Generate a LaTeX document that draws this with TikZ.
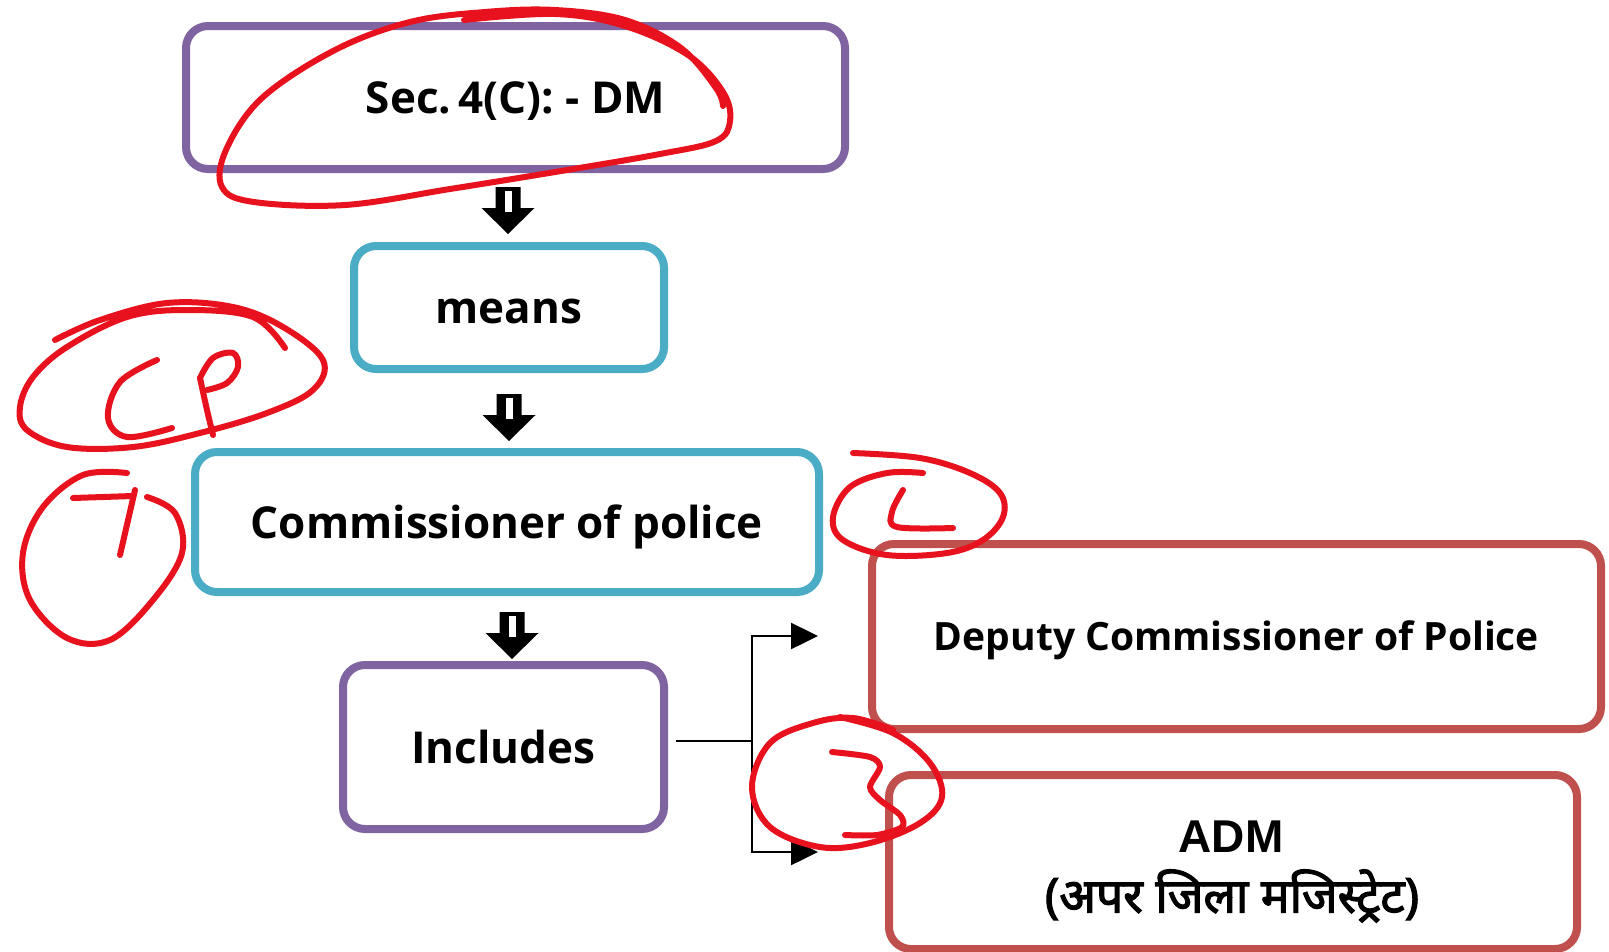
\documentclass[tikz,border=0pt]{standalone}
\usepackage{fontspec}
\setmainfont{Open Sans}
\newfontfamily\admfont{Liberation Sans}
\newfontfamily\devfont[Script=Devanagari, FakeBold=2.5]{Noto Sans}
\usetikzlibrary{arrows.meta,calc}
\definecolor{cpurple}{RGB}{128,100,162}
\definecolor{cblue}{RGB}{75,172,198}
\definecolor{cred}{RGB}{192,80,77}
\definecolor{ink}{RGB}{232,18,30}
\begin{document}
\begin{tikzpicture}[x=1pt,y=-1pt,
  box/.style={draw, line width=8pt, rounded corners=22pt, fill=white, inner sep=0pt,
    font=\bfseries\fontsize{44}{50}\selectfont, text height=40pt, text depth=8pt},
  purplebox/.style={box, draw=cpurple},
  bluebox/.style={box, draw=cblue},
  redbox/.style={box, draw=cred},
  hand/.style={draw=ink, line width=6pt, line cap=round, line join=round},
  conn/.style={line width=2.5pt, draw=black},
  tip/.style={-{Triangle[length=27pt,width=26pt]}},
  pics/downarrow/.style={code={
    \fill[black] (-12.5,0) -- (12.5,0) -- (12.5,21) -- (26.5,21) -- (0,47) -- (-26.5,21) -- (-12.5,21) -- cycle;
    \fill[white] (-3.5,4) rectangle (3.5,25);
  }}]
\useasboundingbox (0,0) rectangle (1609,951);
\fill[white] (0,0) rectangle (1609,951);

% boxes
\node[purplebox, minimum width=659pt, minimum height=143pt] (sec) at (515.5,97.5) {Sec.\,4(C): - DM};
\node[bluebox, minimum width=310pt, minimum height=123pt] (means) at (509,307.5) {means};
\node[bluebox, minimum width=624pt, minimum height=140pt] (cop) at (507,522) {Commissioner of police};
\node[purplebox, minimum width=321pt, minimum height=164pt] (inc) at (503.5,747) {Includes};
\node[redbox, minimum width=729pt, minimum height=185pt, font=\bfseries\fontsize{39}{46}\selectfont, text height=36pt, text depth=8pt] (dcp) at (1236.5,636.5) {Deputy Commissioner of Police};
\node[redbox, minimum width=688pt, minimum height=174pt] (adm) at (1233,862) {};
\node[font=\admfont\bfseries\fontsize{46}{50}\selectfont, inner sep=0pt] (admt) at (1231,837) {ADM};
\node[font=\devfont\fontsize{48}{54}\selectfont, inner sep=0pt] (admh) at (1232,896) {(अपर जिला मजिस्ट्रेट)};

% block arrows
\pic at (508,187) {downarrow};
\pic at (509,394) {downarrow};
\pic at (512,612) {downarrow};

% branch connector
\coordinate (j) at (752,741);
\coordinate (s) at ($(inc.east |- j)+(8,0)$);
\coordinate (t1) at (818,636);
\coordinate (t2) at (818,852);
\draw[conn] (s) -- (j);
\draw[conn, tip] (j) |- (t1);
\draw[conn, tip] (j) |- (t2);

% hand annotations
\draw[hand] plot[smooth, tension=0.6] coordinates {(464,20) (555,14) (625,26) (688,55) (723,92) (730,121) (716,141) (660,154) (555,172) (450,189) (345,205) (254,202) (222,187) (226,150) (262,98) (335,50) (410,22) (485,12) (555,10) (625,20) (681,48) (716,88) (723,106)};

\draw[hand] plot[smooth, tension=0.6] coordinates {(55,340) (100,320) (167,303) (233,307) (283,327) (323,360) (313,390) (267,413) (200,433) (133,447) (67,447) (27,430) (20,407) (33,377) (67,347) (127,317) (187,310) (253,317) (285,348)};
\draw[hand] plot[smooth, tension=0.6] coordinates {(157,360) (120,382) (108,418) (127,437) (172,428)};
\draw[hand] plot[smooth, tension=0.5] coordinates {(213,435) (207,410) (200,378)};
\draw[hand] plot[smooth, tension=0.6] coordinates {(200,378) (213,358) (233,353) (238,367) (227,383) (207,390)};

\draw[hand] plot[smooth, tension=0.6] coordinates {(127,473) (83,475) (43,507) (23,553) (30,600) (67,638) (110,640) (153,600) (182,553) (175,513) (147,497)};
\draw[hand] (73,498) -- (133,496);
\draw[hand] (135,490) -- (120,555);

\draw[hand] plot[smooth, tension=0.6] coordinates {(853,453) (920,458) (970,473) (1000,493) (1003,517) (983,540) (947,553) (887,555) (843,540) (833,517) (850,487) (887,473) (923,473)};
\draw[hand] plot[smooth, tension=0.6] coordinates {(903,490) (892,512) (897,527) (953,528)};

\draw[hand] plot[smooth, tension=0.6] coordinates {(840,717) (893,733) (930,763) (942,797) (920,823) (870,843) (820,847) (770,827) (752,787) (770,743) (813,723) (853,718) (893,730)};
\draw[hand] plot[smooth, tension=0.5] coordinates {(832,752) (870,757) (880,767) (870,787) (880,800) (900,815) (902,827) (877,835) (845,835)};
\end{tikzpicture}
\end{document}
